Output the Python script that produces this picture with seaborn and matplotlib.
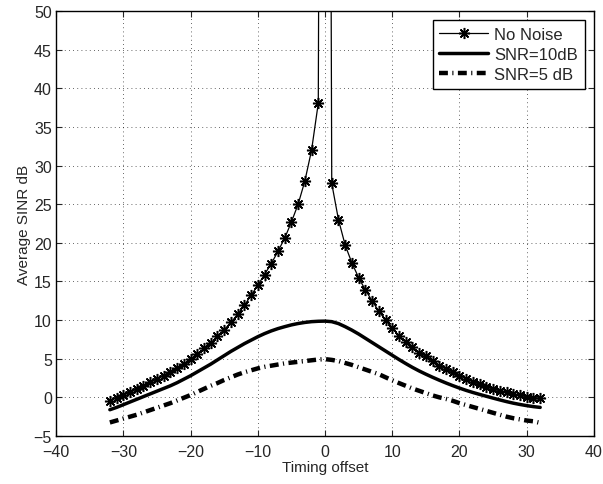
import numpy as np
import pandas as pd
import matplotlib
matplotlib.use("Agg")
import matplotlib.pyplot as plt
import seaborn as sns

# timing offsets
offsets = list(range(-32, 33))

# No noise curve (value at 0 is huge -> runs off the top)
no_noise = [-0.44, -0.05, 0.3, 0.65, 1.08, 1.5, 1.94, 2.37, 2.8, 3.3, 3.8, 4.3,
            4.96, 5.6, 6.35, 7.0, 7.95, 8.76, 9.7, 10.75, 11.9, 13.2, 14.5, 15.9,
            17.3, 18.9, 20.6, 22.7, 25.0, 28.0, 32.0, 38.1,
            300.0,
            27.7, 23.0, 19.7, 17.4, 15.5, 13.9, 12.5, 11.15, 10.0, 8.95, 8.0, 7.15,
            6.55, 5.8, 5.3, 4.66, 4.1, 3.67, 3.24, 2.8, 2.4, 2.0, 1.7, 1.37, 1.07,
            0.86, 0.65, 0.43, 0.26, 0.08, -0.05, -0.13]

snr10 = [-1.6, -1.3, -0.95, -0.6, -0.25, 0.1, 0.45, 0.8, 1.15, 1.5, 1.9, 2.35,
         2.8, 3.3, 3.8, 4.3, 4.85, 5.4, 5.95, 6.45, 6.95, 7.4, 7.85, 8.25, 8.6, 8.9,
         9.15, 9.38, 9.56, 9.7, 9.8, 9.85,
         9.87,
         9.8, 9.55, 9.15, 8.7, 8.2, 7.65, 7.1, 6.55, 6.0, 5.45, 4.9, 4.38, 3.88, 3.42,
         3.0, 2.6, 2.22, 1.86, 1.52, 1.2, 0.9, 0.63, 0.38, 0.14, -0.1, -0.33, -0.55,
         -0.75, -0.92, -1.07, -1.2, -1.3]

snr5 = [-3.25, -3.0, -2.75, -2.5, -2.25, -1.95, -1.65, -1.35, -1.05, -0.75, -0.4,
        -0.05, 0.3, 0.7, 1.1, 1.5, 1.85, 2.25, 2.6, 2.95, 3.25, 3.5, 3.75, 3.95,
        4.1, 4.25, 4.4, 4.5, 4.6, 4.7, 4.8, 4.9,
        4.95,
        4.85, 4.7, 4.45, 4.2, 3.9, 3.6, 3.3, 3.0, 2.6, 2.2, 1.85, 1.5, 1.15, 0.85,
        0.55, 0.25, 0.0, -0.2, -0.45, -0.75, -1.0, -1.25, -1.5, -1.75, -2.0, -2.25,
        -2.5, -2.7, -2.85, -3.0, -3.1, -3.3]

df = pd.DataFrame({"offset": offsets, "No Noise": no_noise,
                   "SNR=10dB": snr10, "SNR=5 dB": snr5})

sns.set_style("ticks")
plt.rcParams["font.family"] = ["Liberation Sans", "DejaVu Sans"]

fig = plt.figure(figsize=(6.03, 4.85), dpi=100)
ax = fig.add_axes([0.093, 0.099, 0.892, 0.876])

sns.lineplot(data=df, x="offset", y="No Noise", ax=ax, color="black", lw=0.9,
             marker=(8, 2, 0), markersize=8, markeredgewidth=1.1,
             markeredgecolor="black", label="No Noise")
sns.lineplot(data=df, x="offset", y="SNR=10dB", ax=ax, color="black", lw=2.5,
             label="SNR=10dB")
sns.lineplot(data=df, x="offset", y="SNR=5 dB", ax=ax, color="black", lw=3.2,
             linestyle=(0, (2.0, 1.0, 0.25, 1.0)), label="SNR=5 dB")

ax.set_xlim(-40, 40)
ax.set_ylim(-5, 50)
ax.set_xticks(range(-40, 41, 10))
ax.set_yticks(range(-5, 51, 5))
ax.grid(True, color="black", linestyle=(0, (1, 4)), linewidth=0.6, alpha=0.8)
ax.tick_params(direction="in", top=True, right=True, labelsize=11.5, length=4, width=0.8)
ax.tick_params(axis="x", pad=5.5)
ax.tick_params(axis="y", pad=3)
for s in ax.spines.values():
    s.set_linewidth(1.0)
    s.set_color("black")

ax.set_xlabel("Timing offset", fontsize=11, labelpad=1)
ax.set_ylabel("Average SINR dB", fontsize=11, labelpad=2)

leg = ax.legend(loc="upper right", fontsize=12, fancybox=False, framealpha=1,
                edgecolor="black", borderaxespad=0.55, handlelength=2.9,
                borderpad=0.4, labelspacing=0.3, handletextpad=0.4)
leg.get_frame().set_linewidth(1.0)

fig.savefig("out.png", dpi=100)
